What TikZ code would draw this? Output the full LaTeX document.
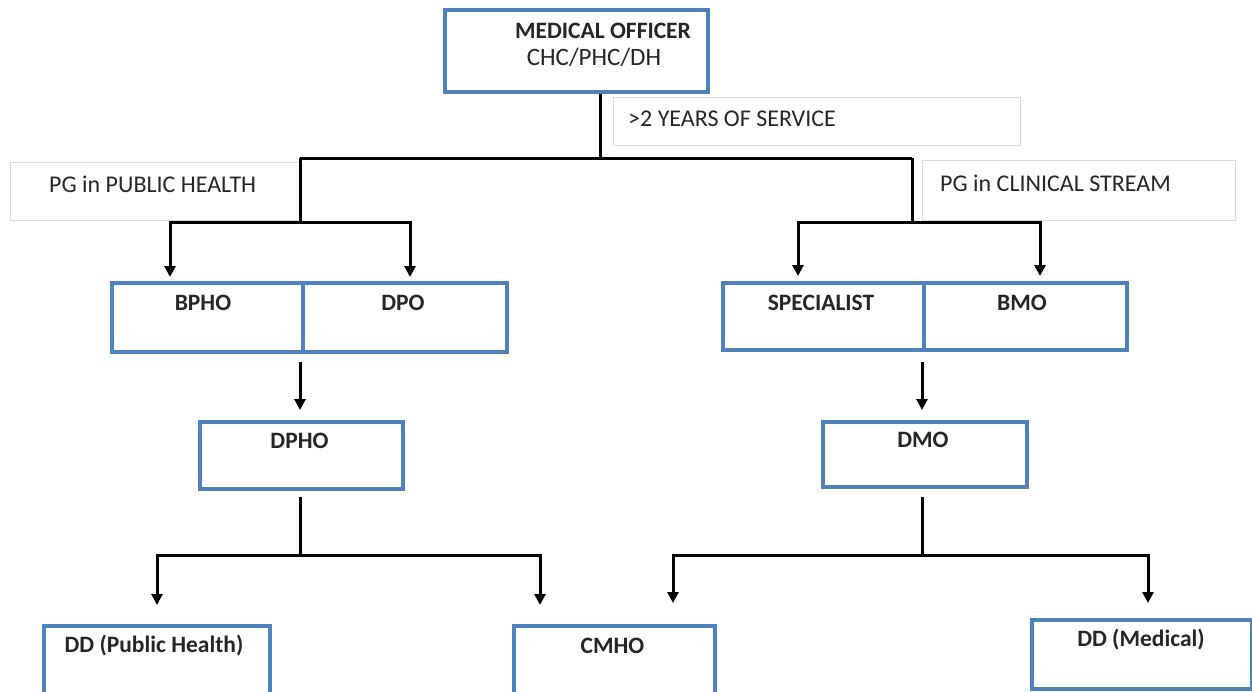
\documentclass[tikz,border=0pt]{standalone}
\usepackage{fontspec}
\setmainfont{Carlito}
\usetikzlibrary{arrows.meta}
\definecolor{boxblue}{RGB}{79,129,189}
\definecolor{lblgrey}{RGB}{220,220,220}
\begin{document}
\begin{tikzpicture}[x=1pt,y=-1pt,
  box/.style={draw=boxblue,line width=3.5pt,inner sep=0pt,anchor=north west},
  lbl/.style={draw=lblgrey,line width=0.8pt,inner sep=0pt,fill=white,anchor=north west},
  btxt/.style={font=\fontsize{23.5}{27}\selectfont\bfseries,inner sep=0pt,align=center,text=black!85},
  rtxt/.style={font=\fontsize{25}{28}\selectfont,inner sep=0pt,align=center,text=black!85},
  ltxt/.style={font=\fontsize{24}{27}\selectfont,inner sep=0pt,anchor=west,text=black!85},
  conn/.style={line width=3pt,black},
  arr/.style={conn,-{Triangle[width=11pt,length=11pt]}}]
\useasboundingbox (0,0) rectangle (1252,691);

% label boxes
\node[lbl,minimum width=407,minimum height=48] (yrs) at (613,97) {};
\node[ltxt] (yrst) at (628,119) {>2 YEARS OF SERVICE};
\node[lbl,minimum width=290,minimum height=58] (pgph) at (10,162) {};
\node[ltxt] (pgpht) at (49,184) {PG in PUBLIC HEALTH};
\node[lbl,minimum width=313,minimum height=60] (pgcl) at (922,160) {};
\node[ltxt] (pgclt) at (940,183) {PG in CLINICAL STREAM};

% boxes
\node[box,minimum width=263,minimum height=82] (mo) at (443,8) {};
\node[btxt] (mot1) at (603,30.5) {MEDICAL OFFICER};
\node[rtxt] (mot2) at (594,57.5) {CHC/PHC/DH};

\node[box,minimum width=191,minimum height=69] (bpho) at (110,281) {};
\node[box,minimum width=204,minimum height=69] (dpo) at (301,281) {};
\node[btxt] (bphot) at (203,303) {BPHO};
\node[btxt] (dpot) at (403,303) {DPO};

\node[box,minimum width=201,minimum height=67] (spec) at (721,281) {};
\node[box,minimum width=203,minimum height=67] (bmo) at (922,281) {};
\node[btxt] (spect) at (821,303) {SPECIALIST};
\node[btxt] (bmot) at (1022,303) {BMO};

\node[box,minimum width=203,minimum height=67] (dpho) at (198,420) {};
\node[btxt] (dphot) at (299.5,441) {DPHO};
\node[box,minimum width=204,minimum height=65] (dmo) at (821,420) {};
\node[btxt] (dmot) at (923,440) {DMO};

\node[box,minimum width=226,minimum height=70] (ddph) at (42,624) {};
\node[btxt] (ddpht) at (154,646) {DD (Public Health)};
\node[box,minimum width=201,minimum height=70] (cmho) at (512,624) {};
\node[btxt] (cmhot) at (612.5,646) {CMHO};
\node[box,minimum width=220,minimum height=69] (ddmed) at (1030,618) {};
\node[btxt] (ddmedt) at (1141,640) {DD (Medical)};

% connectors: top
\coordinate (j0) at (600,158);
\coordinate (jl) at (300,158);
\coordinate (jr) at (912,158);
\coordinate (jl2) at (300,222);
\coordinate (jr2) at (912,222);
\coordinate (aB) at (170,277);
\coordinate (aD) at (410,277);
\coordinate (aS) at (798,276);
\coordinate (aM) at (1040,276);
\draw[conn] (mo.south -| j0) -- (j0);
\draw[conn] (jl) -- (jr);
\draw[conn] (jl) -- (jl2);
\draw[conn] (jr) -- (jr2);
\draw[arr] (jl2) -| (aB);
\draw[arr] (jl2) -| (aD);
\draw[arr] (jr2) -| (aS);
\draw[arr] (jr2) -| (aM);

% middle arrows
\coordinate (m1s) at (300,362);
\coordinate (m2s) at (922,362);
\draw[arr] (m1s) -- ([yshift=10pt]dpho.north -| m1s);
\draw[arr] (m2s) -- ([yshift=10pt]dmo.north -| m2s);

% lower
\coordinate (k1) at (300,497);
\coordinate (k1b) at (300,555);
\coordinate (k2) at (922,497);
\coordinate (k2b) at (922,555);
\coordinate (aP) at (157,605);
\coordinate (aC1) at (540,605);
\coordinate (aC2) at (673,603);
\coordinate (aMd) at (1148,603);
\draw[conn] (k1) -- (k1b);
\draw[arr] (k1b) -| (aP);
\draw[arr] (k1b) -| (aC1);
\draw[conn] (k2) -- (k2b);
\draw[arr] (k2b) -| (aC2);
\draw[arr] (k2b) -| (aMd);
\end{tikzpicture}
\end{document}
